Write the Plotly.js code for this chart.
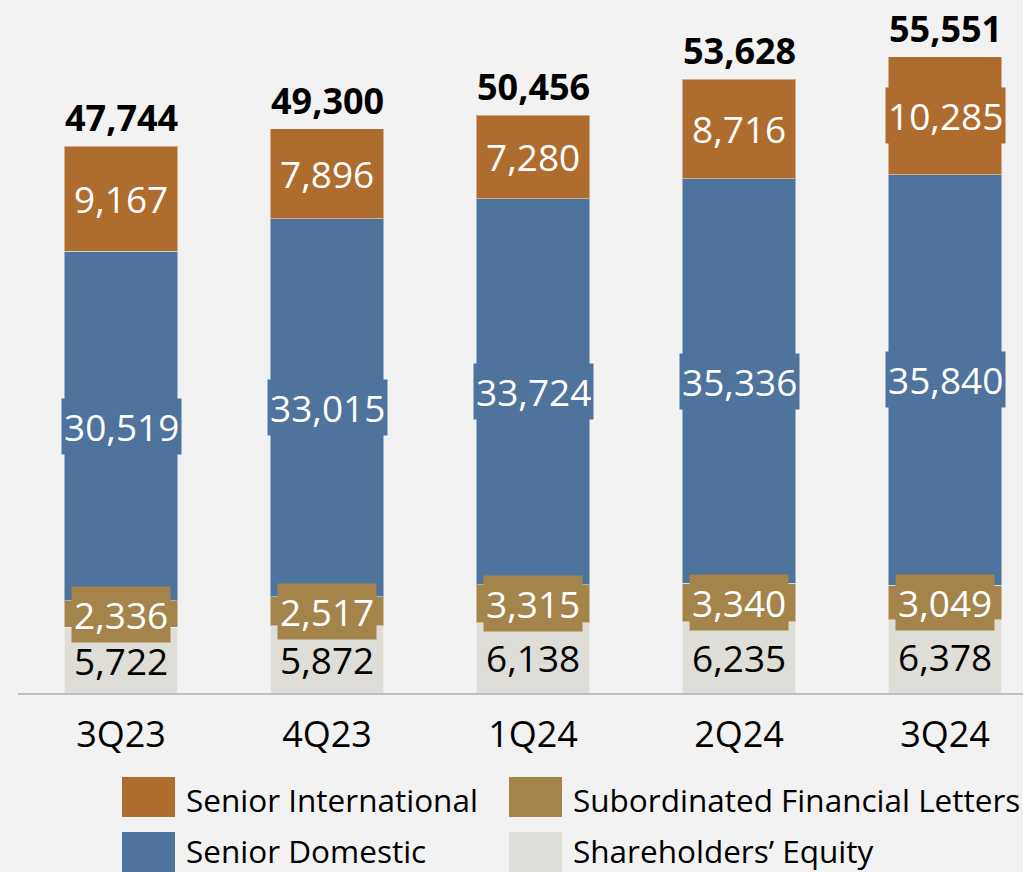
<!DOCTYPE html>
<html>
<head>
<meta charset="utf-8">
<script src="https://cdn.plot.ly/plotly-3.0.1.min.js"></script>
<style>html,body{margin:0;padding:0;background:#f2f2f2;}#chart{width:1023px;height:872px;}</style>
</head>
<body>
<div id="chart"></div>
<script>
const quarters = ["3Q23", "4Q23", "1Q24", "2Q24", "3Q24"];
const equity = [5722, 5872, 6138, 6235, 6378];
const subordinated = [2336, 2517, 3315, 3340, 3049];
const seniorDomestic = [30519, 33015, 33724, 35336, 35840];
const seniorInternational = [9167, 7896, 7280, 8716, 10285];
const totals = [47744, 49300, 50456, 53628, 55551];
const seriesNames = ["Senior International", "Subordinated Financial Letters", "Senior Domestic", "Shareholders’ Equity"];

const FONT = "Open Sans, Noto Sans, sans-serif";
const colors = {
  equity: "#dfddd8",
  sub: "#a5844b",
  dom: "#4e739d",
  intl: "#ae6c2e"
};

const stack = [
  {name: seriesNames[3], y: equity, color: colors.equity, txt: "#000000"},
  {name: seriesNames[1], y: subordinated, color: colors.sub, txt: "#ffffff"},
  {name: seriesNames[2], y: seniorDomestic, color: colors.dom, txt: "#ffffff"},
  {name: seriesNames[0], y: seniorInternational, color: colors.intl, txt: "#ffffff"}
];

const fmt = v => v.toLocaleString("en-US");

const traces = stack.map(s => ({
  type: "bar",
  name: s.name,
  x: quarters,
  y: s.y,
  marker: {color: s.color, line: {color: "rgba(255,255,255,0.45)", width: 1}},
  hoverinfo: "none",
  showlegend: false
}));

const annotations = [];
const base = quarters.map(() => 0);
stack.forEach(s => {
  s.y.forEach((v, i) => {
    annotations.push({
      x: quarters[i], y: base[i] + v / 2, xref: "x", yref: "y",
      text: fmt(v), showarrow: false,
      font: {family: FONT, size: 37, color: s.txt},
      bgcolor: s.color, borderpad: 2,
      xanchor: "center", yanchor: "middle"
    });
    base[i] += v;
  });
});
totals.forEach((t, i) => {
  annotations.push({
    x: quarters[i], y: t, xref: "x", yref: "y",
    text: "<b>" + fmt(t) + "</b>", showarrow: false,
    font: {family: FONT, size: 36, color: "#000000"},
    xanchor: "center", yanchor: "bottom", yshift: 2
  });
});

// legend (drawn manually for large swatches)
const W = 1005, H = 683, L = 18, B = 693;
const px = x => (x - L) / W;
const py = y => (B - y) / H;
const legendItems = [
  {name: seriesNames[0], color: colors.intl, col: 0, row: 0},
  {name: seriesNames[1], color: colors.sub, col: 1, row: 0},
  {name: seriesNames[2], color: colors.dom, col: 0, row: 1},
  {name: seriesNames[3], color: colors.equity, col: 1, row: 1}
];
const colX = [122, 509];
const rowY = [777, 832];
const textY = [799, 850];
const shapes = [];
legendItems.forEach(it => {
  const x0 = colX[it.col], y0 = rowY[it.row];
  shapes.push({
    type: "rect", xref: "paper", yref: "paper",
    x0: px(x0), x1: px(x0 + 53), y0: py(y0), y1: py(y0 + 40),
    fillcolor: it.color, line: {width: 0}
  });
  annotations.push({
    xref: "paper", yref: "paper", x: px(x0 + 62), y: py(textY[it.row]),
    text: it.name, showarrow: false, xanchor: "left", yanchor: "middle",
    font: {family: FONT, size: 31.5, color: "#000000"}
  });
});

const layout = {
  width: 1023, height: 872,
  paper_bgcolor: "#f2f2f2", plot_bgcolor: "#f2f2f2",
  margin: {l: L, r: 0, t: 10, b: 872 - B},
  barmode: "stack", bargap: 0.447,
  showlegend: false,
  xaxis: {
    type: "category", range: [-0.5, -0.5 + W / 206],
    showline: true, linecolor: "#bfbfbf", linewidth: 2,
    ticks: "", showgrid: false, zeroline: false,
    tickfont: {family: FONT, size: 36, color: "#000000"},
    ticklabelstandoff: 9
  },
  yaxis: {
    range: [0, H / 0.011449], visible: false, showgrid: false, zeroline: false
  },
  annotations: annotations,
  shapes: shapes
};

Plotly.newPlot("chart", traces, layout, {staticPlot: true, displayModeBar: false});
</script>
</body>
</html>
